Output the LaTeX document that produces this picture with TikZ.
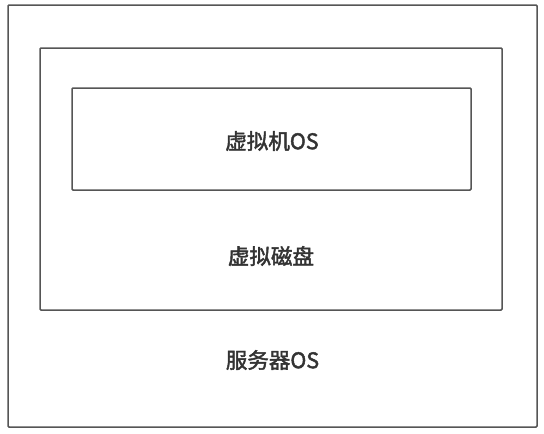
\documentclass[tikz,border=0pt]{standalone}
\usepackage{fontspec}
\newfontfamily\cjk[UprightFeatures={FakeBold=2}]{Noto Sans CJK SC}
\usetikzlibrary{positioning}
\definecolor{lineColor}{RGB}{85,85,85}
\tikzstyle{layer} = [rectangle, draw=lineColor, line width=1.5pt, rounded corners=1pt, inner sep=0pt]
\tikzstyle{layertext} = [font=\cjk\fontsize{21.5}{24}\selectfont, text=black!80]

\begin{document}
\begin{tikzpicture}[x=1pt, y=-1pt]
			\useasboundingbox (0,0) rectangle (544,434);
			\node (server) [layer, minimum width=529pt, minimum height=422pt] at (272.5,216) {};
			\node (disk) [layer, minimum width=462pt, minimum height=262pt] at (271,179) {};
			\node (vm) [layer, minimum width=399pt, minimum height=102pt] at (271.5,139) {};
			
			\node (vmtext) [layertext] at (272,141) {虚拟机OS};
			\node (disktext) [layertext] at (271,256) {虚拟磁盘};
			\node (servertext) [layertext] at (272.5,360) {服务器OS};
\end{tikzpicture}
\end{document}
